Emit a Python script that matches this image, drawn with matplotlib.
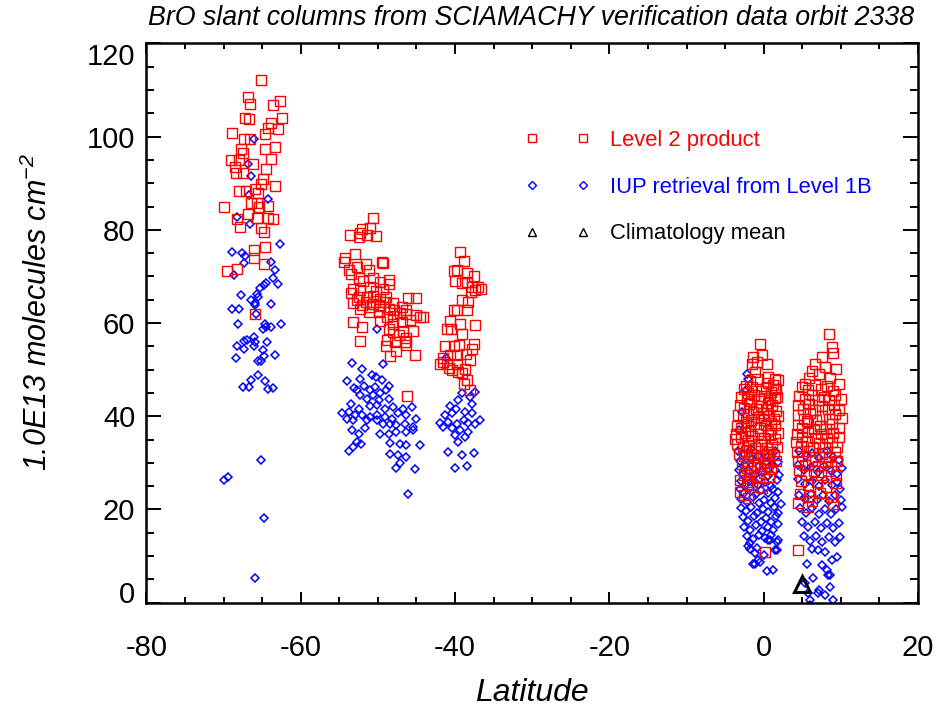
import numpy as np
import matplotlib
matplotlib.use('Agg')
import matplotlib.pyplot as plt
from matplotlib.lines import Line2D
from matplotlib.ticker import MultipleLocator

plt.rcParams['font.family'] = 'Liberation Sans'
plt.rcParams['mathtext.fontset'] = 'custom'
plt.rcParams['mathtext.it'] = 'Liberation Sans:italic'
plt.rcParams['mathtext.rm'] = 'Liberation Sans:italic'
plt.rcParams['axes.unicode_minus'] = False

# ---- Level 2 product (latitude, slant column) ----
l2_s65 = [(-65.1,112.2),(-66.9,108.6),(-66.6,106.9),(-62.7,107.6),(-63.6,106.7),(-67.2,104.0),(-66.7,103.7),
          (-62.4,104.1),(-63.8,103.0),(-64.3,101.9),(-63.0,101.6),(-68.9,100.8),(-64.6,100.6),(-67.4,99.4),
          (-66.6,99.4),(-63.3,97.8),(-64.6,97.3),(-67.7,97.3),(-67.5,96.4),(-69.1,94.9),(-68.0,95.0),(-63.9,95.2),
          (-66.2,94.2),(-68.5,93.4),(-68.4,92.1),(-67.5,92.1),(-64.5,93.1),(-64.9,91.0),(-65.2,89.9),(-63.3,89.4),
          (-68.0,88.4),(-67.1,88.4),(-65.9,88.8),(-65.5,87.9),(-66.5,85.7),(-65.7,85.7),(-64.3,85.2),(-70.0,84.9),
          (-65.4,84.9),(-66.9,83.3),(-68.3,82.4),(-65.7,82.6),(-64.2,82.6),(-63.6,82.4),(-67.9,80.6),(-65.1,80.4),
          (-64.8,79.5),(-66.1,75.6),(-64.6,76.4),(-66.1,74.0),(-64.8,72.6),(-69.5,71.1),(-68.2,71.6),(-65.9,62.0)]
l2_s50 = [(-50.7,82.6),(-52.0,80.2),(-51.0,80.4),(-53.6,78.8),(-52.5,78.4),(-51.4,78.8),(-50.3,78.7),(-52.3,79.3),
          (-53.0,74.9),(-54.3,74.0),(-54.4,73.1),(-53.8,71.3),(-52.7,72.0),(-51.5,72.6),(-51.2,71.3),(-49.5,73.1),
          (-49.3,72.9),(-53.5,70.6),(-52.5,69.7),(-51.9,69.1),(-50.6,69.7),(-49.7,68.8),(-48.6,69.3),(-48.5,68.4),
          (-53.2,67.4),(-52.3,67.1),(-51.0,67.7),(-50.2,66.9),(-49.3,67.4),(-52.5,65.6),(-51.4,65.6),(-50.6,65.7),
          (-49.7,65.2),(-48.9,65.6),(-53.5,66.4),(-53.2,64.2),(-52.1,63.8),(-51.0,63.4),(-49.9,63.8),(-49.1,64.5),
          (-48.0,64.2),(-47.9,62.9),(-46.9,63.4),(-46.05,65.3),(-45.0,65.3),(-46.3,62.0),(-45.0,61.8),(-44.1,61.4),
          (-48.85,61.4),(-48.0,61.6),(-47.1,62.1),(-52.7,64.9),(-51.6,64.5),(-50.6,64.0),(-49.7,63.6),(-48.6,63.1),
          (-52.3,63.1),(-51.1,62.4),(-49.9,62.4),(-53.2,60.2),(-52.1,59.1),(-49.7,60.4),(-46.3,62.7),(-44.5,61.3),
          (-48.0,59.9),(-46.9,60.2),(-45.8,60.6),(-45.4,58.4),(-48.0,58.1),(-46.7,58.4),(-48.6,58.8),(-47.3,57.4),
          (-46.3,56.7),(-48.85,56.3),(-47.8,55.9),(-46.5,55.9),(-48.9,55.0),(-47.6,54.1),(-46.3,55.2),(-48.4,52.9),
          (-45.2,53.1),(-52.3,56.1),(-46.2,44.4)]
l2_s40 = [(-39.35,75.2),(-38.8,73.3),(-40.2,71.1),(-39.7,71.4),(-38.5,70.7),(-37.5,70.0),(-40.0,69.1),(-39.05,68.6),
          (-38.4,68.8),(-37.8,67.7),(-37.0,67.7),(-36.6,67.4),(-37.9,66.7),(-37.4,67.0),(-39.1,64.9),(-38.3,64.5),
          (-39.8,62.9),(-40.2,62.7),(-38.4,62.7),(-40.65,60.4),(-41.1,58.8),(-40.5,58.8),(-39.35,59.9),(-37.4,59.5),
          (-39.1,57.7),(-41.3,55.0),(-40.2,55.0),(-39.5,55.2),(-37.6,55.6),(-37.75,54.5),(-40.65,53.1),(-39.8,53.1),
          (-38.6,53.4),(-38.1,52.0),(-41.5,51.6),(-41.95,51.15),(-41.1,51.15),(-40.4,49.85),(-39.6,49.5),
          (-39.05,49.3),(-38.5,47.7),(-38.9,47.0),(-38.1,45.6),(-41.6,52.4),(-39.8,51.3),(-38.7,50.2),(-40.8,50.4)]
l2_eq0 = [(-0.46,55.6),(-0.16,53.1),(-1.33,52.7),(-0.9,51.6),(0.4,51.3),(-1.54,51.3),(-1.11,49.5),(0.62,48.4),
          (1.48,48.1),(1.91,47.7),(1.48,45.9),(1.70,44.1),(-3.7,35.2),
          (-1.8,47.5),(-0.9,48.0),(0.5,47.2),(1.2,46.8),(-2.3,46.6),
          (-2.6,45.8),(-1.5,46.2),(-0.4,45.5),(0.3,46.0),(1.0,45.2),(1.6,45.9),(-2.0,45.0),
          (-2.9,44.2),(-2.2,43.6),(-1.2,44.6),(-0.6,43.8),(0.1,44.3),(0.8,43.5),(1.4,44.0),(-1.7,43.2),(0.5,42.9),
          (-3.1,42.4),(-2.5,41.8),(-1.9,42.6),(-1.0,41.5),(-0.3,42.2),(0.4,41.6),(1.1,42.5),(1.6,41.2),(-1.4,40.9),
          (-0.1,40.7),
          (-3.3,40.2),(-2.7,39.6),(-2.0,40.4),(-1.6,39.2),(-0.8,39.8),(0.0,39.1),(0.7,40.1),(1.3,39.4),(1.8,40.0),
          (-2.3,38.8),(0.9,38.6),
          (-3.5,38.0),(-2.9,37.4),(-2.1,37.9),(-1.2,38.3),(-0.5,37.5),(0.3,38.1),(1.0,37.3),(1.5,38.2),(-1.8,36.9),
          (0.6,36.8),
          (-3.6,36.2),(-3.0,35.5),(-2.4,36.4),(-1.5,35.8),(-0.7,36.3),(0.0,35.4),(0.8,35.9),(1.4,35.2),(1.9,36.5),
          (-2.0,34.9),(-0.3,34.7),
          (-3.4,34.0),(-2.7,33.4),(-1.9,33.9),(-1.1,33.2),(-0.4,33.8),(0.4,33.1),(1.1,34.1),(1.7,33.5),(-2.3,32.6),
          (0.7,32.4),
          (-3.2,32.0),(-2.5,31.4),(-1.6,31.9),(-0.9,31.2),(-0.1,31.7),(0.6,30.9),(1.3,31.6),(-2.0,30.5),(0.2,30.2),
          (1.6,30.4),
          (-2.8,29.7),(-2.2,29.0),(-1.3,29.5),(-0.5,28.8),(0.4,29.3),(1.0,28.6),(-1.7,28.2),
          (-2.6,27.5),(-1.0,27.2),(0.0,27.8),(-1.9,26.8),(0.7,27.0),
          (-3.06,26.3),(-2.19,25.9),(-1.54,25.4),(-0.68,24.9),(-1.98,22.4),(-0.25,24.7),(-3.1,23.8),(-2.6,23.2),
          (0.18,10.9)]
l2_eq7 = [(8.48,57.6),(8.83,54.9),(9.04,53.6),(7.53,52.7),(6.67,51.3),(7.96,50.6),(9.34,50.2),(5.37,47.0),
          (6.2,49.8),(7.1,49.0),(8.6,48.3),(5.9,48.2),
          (4.9,46.2),(5.8,45.6),(6.6,46.8),(7.4,45.9),(8.2,46.5),(9.0,45.4),(9.7,46.9),
          (4.6,44.3),(5.3,43.6),(6.2,44.5),(7.0,43.4),(7.8,44.2),(8.5,43.5),(9.3,44.6),(10.0,43.7),
          (4.5,42.4),(5.1,41.6),(5.9,42.7),(6.7,41.4),(7.5,42.2),(8.3,41.5),(9.1,42.5),(9.8,41.3),
          (4.4,40.3),(5.2,39.5),(6.0,40.6),(6.8,39.3),(7.6,40.1),(8.4,39.4),(9.2,40.4),(10.1,39.6),(5.6,38.9),
          (4.4,38.2),(4.9,37.4),(5.7,38.5),(6.5,37.2),(7.3,38.0),(8.1,37.3),(8.9,38.3),(9.7,37.5),
          (4.3,36.3),(5.0,35.5),(5.8,36.6),(6.6,35.3),(7.4,36.1),(8.2,35.4),(9.0,36.4),(9.8,35.6),
          (4.2,34.4),(4.8,33.6),(5.6,34.7),(6.4,33.3),(7.2,34.2),(8.0,33.5),(8.8,34.5),(9.5,33.4),
          (4.3,32.3),(5.0,31.5),(5.9,32.6),(6.7,31.2),(7.6,32.0),(8.4,31.3),(9.2,32.4),
          (4.5,30.4),(5.3,29.5),(6.2,30.6),(7.0,29.3),(7.9,30.1),(8.7,29.4),(9.5,30.3),
          (4.6,28.5),(5.5,27.6),(6.5,28.3),(7.4,27.4),(8.3,28.2),(9.4,27.3),
          (4.8,26.1),(5.7,25.3),(6.9,25.8),(8.1,24.9),(9.4,25.6),(4.7,23.4),(5.9,22.8),(7.3,23.5),(8.7,22.6),
          (4.5,21.3),(5.8,20.6),(9.0,21.2),(6.3,21.8),(4.42,11.3)]

# ---- IUP retrieval from Level 1B ----
iup_s65 = [(-66.1,99.5),(-66.9,94.2),(-66.4,91.6),(-66.7,87.4),(-64.2,86.7),(-68.3,82.7),(-66.6,81.3),(-62.7,77.0),
           (-68.9,75.3),(-67.6,75.1),(-67.2,74.3),(-63.8,73.1),(-67.4,72.9),(-63.3,71.3),(-68.6,70.4),(-63.6,69.7),
           (-64.5,68.7),(-64.8,68.1),(-63.0,68.4),(-65.3,67.6),(-65.7,66.3),(-67.8,66.1),(-66.4,65.0),(-65.5,65.6),
           (-63.9,64.0),(-68.9,63.0),(-68.0,63.0),(-65.9,63.8),(-65.8,61.9),(-65.9,64.3),(-68.1,59.8),(-64.6,59.9),
           (-64.9,58.8),(-64.5,59.1),(-63.9,59.1),(-62.5,59.7),(-67.0,56.4),(-67.4,56.1),(-66.1,56.9),(-65.9,55.9),
           (-64.4,56.0),(-68.3,55.0),(-67.4,54.5),(-66.1,55.0),(-64.9,54.3),(-68.4,52.4),(-65.5,51.9),(-64.8,52.9),
           (-63.3,53.1),(-65.2,51.8),(-65.5,48.9),(-66.4,47.7),(-64.6,47.6),(-67.5,46.3),(-66.7,46.3),(-64.3,45.9),
           (-63.6,46.1),(-65.1,30.6),(-70.0,26.4),(-69.4,26.9),(-64.8,18.2),(-65.9,5.4)]
iup_s50 = [(-53.3,51.4),(-52.0,50.2),(-49.4,51.3),(-54.0,47.5),(-52.3,47.9),(-50.8,48.8),(-50.2,48.4),(-49.5,47.7),
           (-48.5,46.4),(-53.1,46.1),(-52.75,45.6),(-51.8,46.4),(-51.0,45.6),(-50.4,46.3),(-49.7,44.9),(-48.9,45.6),
           (-52.3,44.5),(-51.45,43.8),(-50.6,44.5),(-49.8,43.4),(-48.6,43.8),(-53.5,42.7),(-52.5,41.6),(-51.0,42.2),
           (-50.1,42.4),(-49.1,41.6),(-48.0,42.0),(-46.7,41.6),(-45.6,42.0),(-54.6,40.7),(-53.8,40.9),(-53.0,40.2),
           (-52.0,40.2),(-51.0,39.9),(-50.1,40.2),(-49.1,39.9),(-48.2,39.5),(-47.35,40.6),(-46.3,40.2),(-45.0,39.5),
           (-54.0,39.5),(-53.2,39.15),(-51.4,39.15),(-50.15,39.15),(-49.4,38.4),(-48.4,38.4),(-47.6,38.1),
           (-46.5,38.4),(-45.5,37.7),(-53.3,37.0),(-52.5,36.3),(-51.7,37.4),(-49.7,36.2),(-48.6,36.3),(-47.6,36.65),
           (-46.3,36.65),(-45.4,37.0),(-52.75,34.5),(-52.2,34.0),(-53.8,32.6),(-53.2,33.4),(-48.4,34.3),(-47.2,34.15),
           (-46.3,33.8),(-44.5,33.9),(-48.4,31.9),(-47.35,31.65),(-46.35,31.3),(-47.1,29.9),(-47.6,28.8),(-45.2,28.6),
           (-46.05,23.4),(-50.15,58.8)]
iup_s40 = [(-37.4,45.2),(-39.1,45.0),(-38.1,44.15),(-39.6,43.4),(-37.8,42.7),(-40.65,42.15),(-39.9,41.65),(-38.7,40.9),
           (-40.4,40.6),(-41.3,40.2),(-37.8,40.6),(-38.9,39.15),(-41.95,38.6),(-40.9,38.8),(-39.8,38.4),(-41.5,37.7),
           (-40.4,37.4),(-38.3,38.6),(-36.8,39.15),(-37.4,38.3),(-39.35,37.0),(-38.3,36.65),(-40.0,35.9),(-38.7,35.6),
           (-39.6,34.5),(-40.9,32.4),(-37.6,32.2),(-39.1,31.65),(-40.0,28.8),(-38.4,29.3),(-41.2,52.6)]
iup_eq0 = [(-2.19,49.1),(-1.98,47.9),(-2.4,45.5),(-2.8,41.0),(-3.2,37.0),
           (-3.3,32.5),(-2.6,31.8),(-1.7,32.9),(-0.8,31.5),(0.1,32.2),(0.9,31.0),(1.5,32.6),
           (-3.1,30.4),(-2.4,29.6),(-1.5,30.8),(-0.6,29.3),(0.3,30.1),(1.1,29.5),(1.8,30.2),
           (-3.2,28.5),(-2.7,27.6),(-1.9,28.3),(-1.1,27.4),(-0.2,28.0),(0.6,27.2),(1.4,28.4),(2.0,27.5),
           (-3.0,26.2),(-2.3,25.5),(-1.4,26.4),(-0.7,25.3),(0.2,26.0),(1.0,25.1),(1.7,26.3),
           (-3.1,24.4),(-2.5,23.6),(-1.8,24.7),(-1.0,23.3),(-0.3,24.2),(0.5,23.5),(1.2,24.5),(1.9,23.8),
           (-2.9,22.3),(-2.2,21.5),(-1.4,22.6),(-0.6,21.4),(0.1,22.1),(0.9,21.3),(1.5,22.4),(2.2,21.2),
           (-3.0,20.4),(-2.3,19.6),(-1.6,20.6),(-0.9,19.3),(-0.1,20.2),(0.6,19.5),(1.3,20.5),(1.9,19.2),
           (-2.7,18.4),(-2.0,17.6),(-1.2,18.6),(-0.4,17.3),(0.3,18.1),(1.0,17.4),(1.6,18.5),
           (-2.5,16.3),(-1.8,15.5),(-1.0,16.6),(-0.2,15.3),(0.5,16.2),(1.2,15.6),(1.8,16.8),
           (-2.2,14.4),(-1.4,13.7),(-0.6,14.6),(0.2,13.8),(0.9,14.5),
           (-1.76,12.7),(0.62,13.4),(1.48,11.3),(1.70,13.1),(-0.68,9.1),(-1.11,8.4),(0.4,6.9),(1.26,7.1),
           (-1.33,8.4),(-0.47,8.8),(1.69,11.3),(0.83,13.4),(1.91,13.4),(-1.76,11.6),(-1.11,10.6),(-2.0,12.2),
           (-0.9,11.8),(0.1,10.2)]
iup_eq7 = [(4.6,32.6),(5.5,31.4),(6.3,32.2),(7.2,31.0),(8.2,32.5),(9.0,31.3),(9.8,30.6),
           (4.4,29.6),(5.2,28.4),(6.1,29.2),(7.0,28.0),(7.8,29.4),(8.7,28.3),(9.5,27.6),(10.1,28.9),
           (4.5,26.5),(5.4,25.4),(6.2,26.2),(7.1,25.1),(7.9,26.4),(8.8,25.2),(9.47,25.9),(9.9,24.4),
           (4.6,23.1),(5.3,22.2),(6.1,23.4),(6.9,22.0),(7.7,23.2),(8.5,21.9),(9.3,23.0),(10.0,22.1),
           (4.7,20.3),(5.5,19.2),(6.3,20.4),(7.1,19.1),(7.9,20.2),(8.7,19.0),(9.4,20.1),(10.12,20.6),
           (5.0,17.3),(5.8,16.2),(6.6,17.4),(7.4,16.1),(8.2,17.2),(9.0,16.0),(9.8,17.1),
           (5.2,14.3),(6.0,13.2),(6.8,14.4),(7.6,13.1),(8.4,14.2),(9.2,13.0),(9.9,14.1),
           (6.23,11.6),(7.0,11.2),(8.0,10.8),(9.47,9.9),(5.58,8.4),(7.53,8.1),(8.83,9.1),(8.17,7.0),(8.61,5.9),
           (6.45,5.2),(5.37,4.15),(7.1,2.7),(8.61,3.4),(7.96,1.65),(7.09,2.0),(5.80,2.0),(6.01,0.57),(9.04,0.6),
           (8.39,5.9),(6.0,-0.5)]

# ---- Climatology mean ----
clim_lat = [4.9]
clim_val = [4.0]

xticks = [-80, -60, -40, -20, 0, 20]
yticks = [0, 20, 40, 60, 80, 100, 120]

l2 = np.array(l2_s65 + l2_s50 + l2_s40 + l2_eq0 + l2_eq7)
iup = np.array(iup_s65 + iup_s50 + iup_s40 + iup_eq0 + iup_eq7)

fig = plt.figure(figsize=(9.41, 7.14), dpi=100)
ax = fig.add_axes([0.1556, 0.1559, 0.8200, 0.7833])

ax.plot(iup[:, 0], iup[:, 1], 'D', ms=4.2, mfc='none', mec='#0000ff', mew=1.1, ls='none')
ax.plot(l2[:, 0], l2[:, 1], 's', ms=6.5, mfc='none', mec='#ff0000', mew=1.0, ls='none')
ax.plot(clim_lat, clim_val, '^', ms=12, mfc='none', mec='black', mew=2.2, ls='none')

ax.set_xlim(-80, 20)
ax.set_ylim(0, 120)
ax.set_xticks(xticks)
ax.set_yticks(yticks)
ax.xaxis.set_minor_locator(MultipleLocator(5))
ax.yaxis.set_minor_locator(MultipleLocator(5))
ax.tick_params(which='both', direction='in', top=True, right=True, width=1.4, labelsize=21)
ax.tick_params(axis='x', which='major', length=8, pad=22.5)
ax.tick_params(axis='x', which='minor', length=4)
ax.tick_params(axis='y', which='major', length=11, pad=8)
ax.tick_params(axis='y', which='minor', length=5.5)
for s in ax.spines.values():
    s.set_linewidth(1.8)

# end labels sit inside the axis range, as in the original
yt = ax.yaxis.get_major_ticks()
yt[0].label1.set_verticalalignment('baseline')
yt[-1].label1.set_verticalalignment('top')

ax.set_xlabel('Latitude', fontsize=23, style='italic')
ax.xaxis.set_label_coords(0.5, -0.135)
ax.set_ylabel('1.0E13 molecules cm$^{-2}$', fontsize=22, style='italic')
ax.yaxis.set_label_coords(-0.12, 0.52)

fig.text(531 / 941, 1 - 18 / 714, 'BrO slant columns from SCIAMACHY verification data orbit 2338',
         fontsize=19.3, style='italic', ha='center', va='center')

h1 = Line2D([], [], marker='s', ms=5.5, mfc='none', mec='#ff0000', mew=1.0, ls='none')
h2 = Line2D([], [], marker='D', ms=3.8, mfc='none', mec='#0000ff', mew=1.0, ls='none')
h3 = Line2D([], [], marker='^', ms=5.5, mfc='none', mec='black', mew=1.0, ls='none')
leg = ax.legend([h1, h2, h3], ['Level 2 product', 'IUP retrieval from Level 1B', 'Climatology mean'],
                loc='upper left', bbox_to_anchor=(0.491, 0.845), frameon=False, numpoints=2,
                handlelength=2.92, handletextpad=0.93, labelspacing=1.17, borderpad=0, borderaxespad=0,
                fontsize=15.8)
for t, c in zip(leg.get_texts(), ['#ff0000', '#0000ff', 'black']):
    t.set_color(c)

fig.savefig('out.png', dpi=100)
